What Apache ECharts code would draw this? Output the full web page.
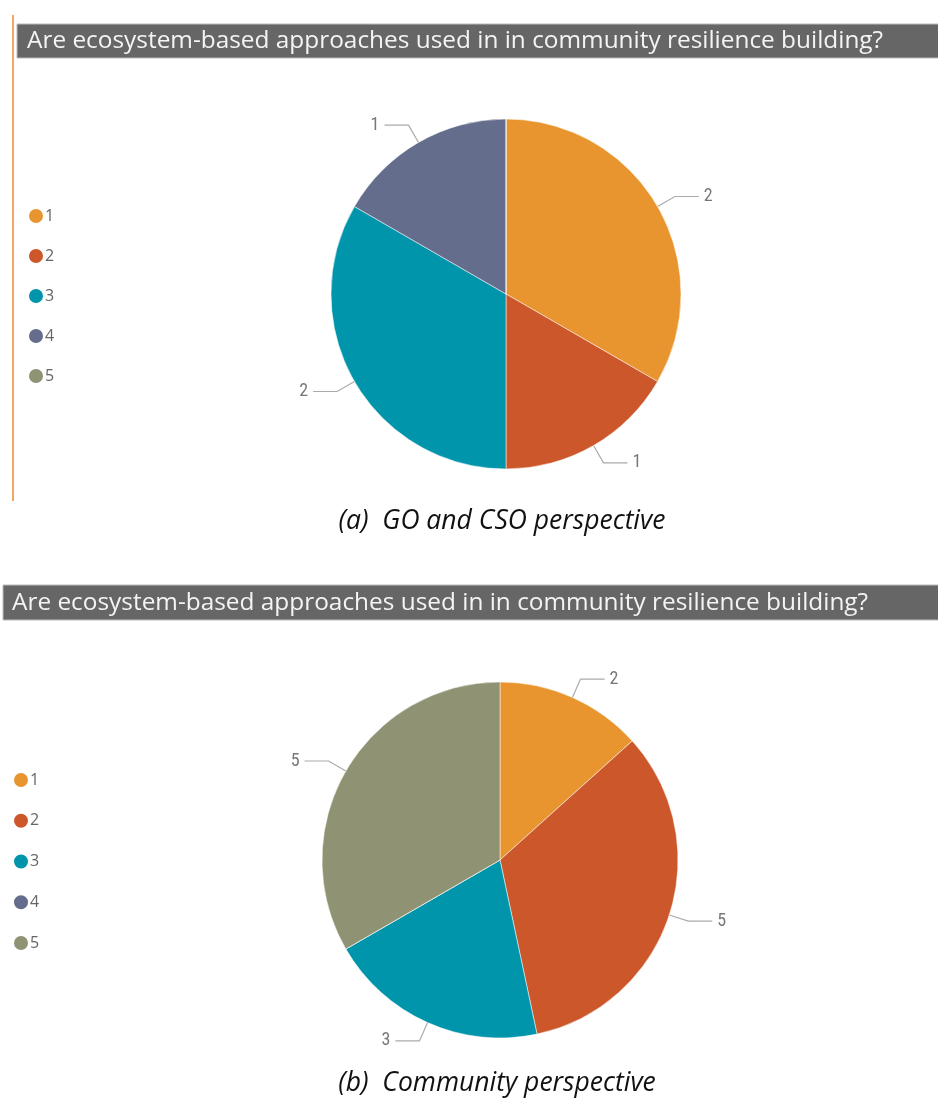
<!DOCTYPE html>
<html>
<head>
<meta charset="utf-8">
<script src="https://cdn.jsdelivr.net/npm/echarts@6/dist/echarts.min.js"></script>
<style>html,body{margin:0;padding:0;background:#fff}#c{width:938px;height:1100px}</style>
</head>
<body>
<div id="c"></div>
<script>
const categories = ['1', '2', '3', '4', '5'];
const valuesA = [2, 1, 2, 1, 0];
const valuesB = [2, 5, 3, 0, 5];
const colors = ['#E9952F', '#CB572B', '#0195AC', '#646D8B', '#8F9373'];
const titleText = 'Are ecosystem-based approaches used in in community resilience building?';
const captionA = '(a)  GO and CSO perspective';
const captionB = '(b)  Community perspective';

function mkData(vals) {
  return categories.map((c, i) => {
    const d = { name: c, value: vals[i] };
    if (vals[i] === 0) { d.label = { show: false }; d.labelLine = { show: false }; }
    return d;
  });
}
const labelStyle = { show: true, formatter: '{c}', color: '#777', fontSize: 18, fontFamily: 'Roboto Condensed, Roboto, sans-serif' };
const labelLine = { show: true, length: 20, length2: 24, lineStyle: { color: '#aaa', width: 1.2 } };
const legendText = { color: '#666', fontSize: 16, lineHeight: 16, fontFamily: 'Open Sans, sans-serif', padding: [0,0,0,-4] };

const chart = echarts.init(document.getElementById('c'), null, { renderer: 'canvas' });
chart.setOption({
  color: colors,
  animation: false,
  legend: [
    { data: categories, orient: 'vertical', left: 27, top: 207, padding: 0, itemWidth: 16, itemHeight: 16, itemGap: 22, icon: 'circle',
      textStyle: legendText, selectedMode: false },
    { data: categories, orient: 'vertical', left: 12, top: 771, padding: 0, itemWidth: 16, itemHeight: 16, itemGap: 22.75, icon: 'circle',
      textStyle: legendText, selectedMode: false }
  ],
  graphic: [
    { type: 'rect', shape: { x: 12, y: 15, width: 2, height: 486 }, style: { fill: '#F0A860' } },
    { type: 'rect', shape: { x: 17, y: 24, width: 925, height: 34 }, style: { fill: '#666666', stroke: '#bbbbbb', lineWidth: 1 } },
    { type: 'text', x: 27, y: 41, style: { text: titleText, fill: '#f4f4f4', font: '24.4px "Open Sans", sans-serif', textVerticalAlign: 'middle' } },
    { type: 'rect', shape: { x: 3, y: 585, width: 940, height: 35 }, style: { fill: '#666666', stroke: '#bbbbbb', lineWidth: 1 } },
    { type: 'text', x: 12, y: 603, style: { text: titleText, fill: '#f4f4f4', font: '24.4px "Open Sans", sans-serif', textVerticalAlign: 'middle' } },
    { type: 'text', x: 502, y: 521, style: { text: captionA, fill: '#111', font: 'italic 26.5px "Open Sans", sans-serif', textAlign: 'center', textVerticalAlign: 'middle' } },
    { type: 'text', x: 497, y: 1083, style: { text: captionB, fill: '#111', font: 'italic 26.5px "Open Sans", sans-serif', textAlign: 'center', textVerticalAlign: 'middle' } }
  ],
  series: [
    { type: 'pie', center: [506, 294], radius: 175, startAngle: 90, clockwise: true,
      data: mkData(valuesA), label: labelStyle, labelLine: labelLine, avoidLabelOverlap: false,
      itemStyle: { borderColor: '#fff', borderWidth: 0.5 }, emphasis: { disabled: true } },
    { type: 'pie', center: [500, 860], radius: 178, startAngle: 90, clockwise: true,
      data: mkData(valuesB), label: labelStyle, labelLine: labelLine, avoidLabelOverlap: false,
      itemStyle: { borderColor: '#fff', borderWidth: 0.5 }, emphasis: { disabled: true } }
  ]
});
</script>
</body>
</html>
